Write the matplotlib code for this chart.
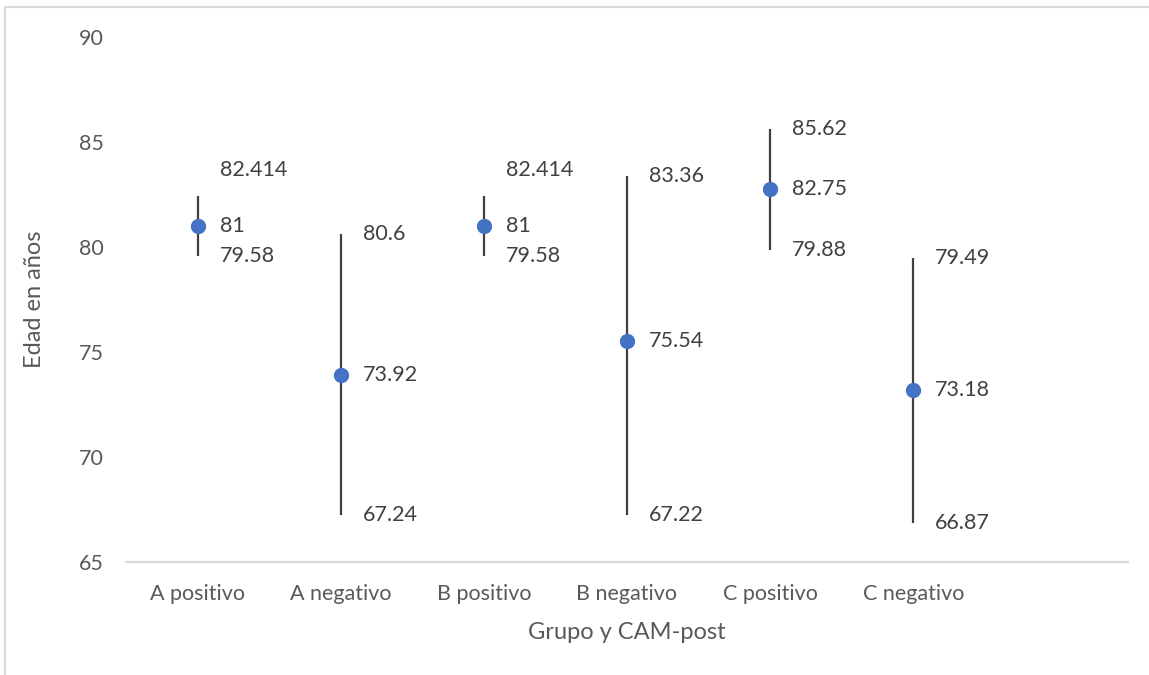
import matplotlib
matplotlib.use('Agg')
import matplotlib.pyplot as plt
from matplotlib.lines import Line2D

# ===== DATA =====
grupos = ['A positivo', 'A negativo', 'B positivo', 'B negativo', 'C positivo', 'C negativo']
media = [81, 73.92, 81, 75.54, 82.75, 73.18]
alto = [82.414, 80.6, 82.414, 83.36, 85.62, 79.49]
bajo = [79.58, 67.24, 79.58, 67.22, 79.88, 66.87]
# top label nudged up where it would crowd the mean label (px)
nudge_alto = [26, 0, 26, 0, 0, 0]

TXT = '#595959'
plt.rcParams['font.family'] = ['Lato', 'DejaVu Sans']

fig = plt.figure(figsize=(11.49, 6.75), dpi=100)
ax = fig.add_axes([126 / 1149, 1 - 562 / 675, 1002 / 1149, 525 / 675])

x = list(range(len(grupos)))
for i in x:
    ax.vlines(i, bajo[i], alto[i], color='#404040', lw=1.6, zorder=2)
ax.plot(x, media, 'o', color='#4472C4', ms=10, zorder=3)

for i in x:
    kw = dict(textcoords='offset pixels', ha='left', va='center', fontsize=15.5, color='#404040')
    ax.annotate(f'{alto[i]:g}', (i, alto[i]), xytext=(22, nudge_alto[i]), **kw)
    ax.annotate(f'{media[i]:g}', (i, media[i]), xytext=(22, 0), **kw)
    ax.annotate(f'{bajo[i]:g}', (i, bajo[i]), xytext=(22, 0), **kw)

ax.set_xlim(-0.5, 6.5)
ax.set_ylim(65, 90)
ax.set_yticks(range(65, 91, 5))
ax.set_xticks(x)
ax.set_xticklabels(grupos)
ax.tick_params(length=0, labelsize=15.5, labelcolor=TXT)
ax.tick_params(axis='y', pad=16)
ax.tick_params(axis='x', pad=16)

for s in ['top', 'right', 'left']:
    ax.spines[s].set_visible(False)
ax.spines['bottom'].set_color('#D9D9D9')
ax.spines['bottom'].set_linewidth(1.5)

ax.set_ylabel('Edad en años', fontsize=17, color=TXT, labelpad=24)
ax.set_xlabel('Grupo y CAM-post', fontsize=17, color=TXT, labelpad=13)

# chart area border (top and left visible)
fig.add_artist(Line2D([5 / 1149, 5 / 1149, 1.01], [-0.01, 1 - 7 / 675, 1 - 7 / 675],
                      transform=fig.transFigure, color='#D9D9D9', lw=1.5))

fig.savefig('out.png', dpi=100)
